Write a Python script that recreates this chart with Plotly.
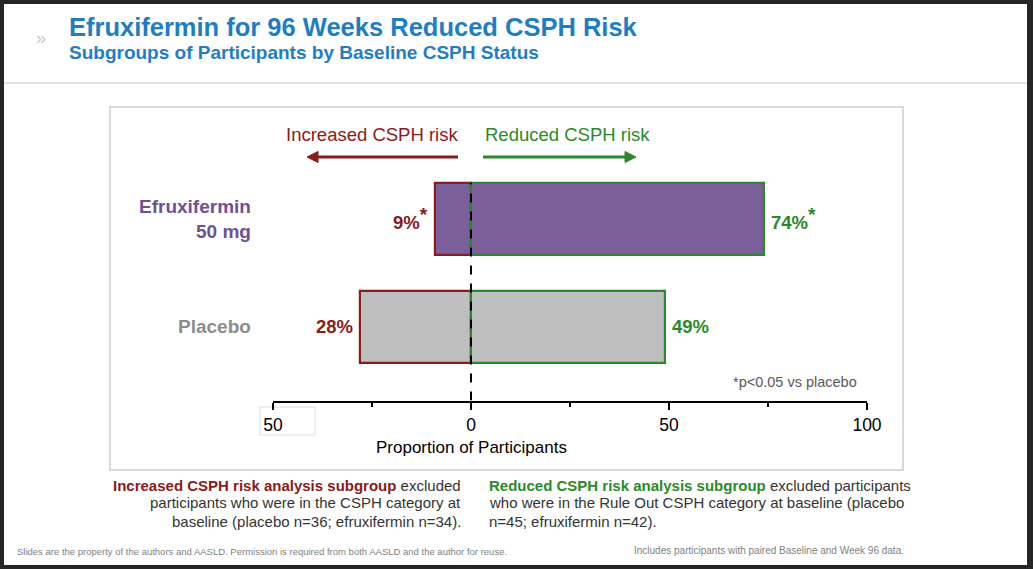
import plotly.graph_objects as go

W, H = 1033, 569

# ---- data ----
groups = ["Efruxifermin 50 mg", "Placebo"]
group_lines = [["Efruxifermin", "50 mg"], ["Placebo"]]
increased = [9, 28]          # % with increased CSPH risk
reduced = [74, 49]           # % with reduced CSPH risk
increased_sig = ["*", ""]
reduced_sig = ["*", ""]
tick_vals = [-50, 0, 50, 100]
tick_text = ["50", "0", "50", "100"]
minor_vals = [-25, 25, 75]

# ---- styles ----
FONT = "Liberation Sans, Arial, sans-serif"
RED = "#8b1a1a"
GREEN = "#2a8a2a"
PURPLE = "#7b5f9b"
GRAY = "#bfbfbf"
BLUE = "#1f7dc4"
fills = [PURPLE, GRAY]
label_colors = ["#6f4f96", "#8c8c8c"]


def X(px):
    return px / W


def Y(py):
    return 1 - py / H


fig = go.Figure()
fig.add_trace(go.Bar(
    x=[-v for v in increased], y=groups, orientation="h", width=0.67,
    marker=dict(color=fills, line=dict(color=RED, width=2.2)),
    hoverinfo="skip", showlegend=False))
fig.add_trace(go.Bar(
    x=reduced, y=groups, orientation="h", width=0.67,
    marker=dict(color=fills, line=dict(color=GREEN, width=2.2)),
    hoverinfo="skip", showlegend=False))

ann = []
shapes = []

# white slide on dark frame
shapes.append(dict(type="rect", xref="paper", yref="paper", x0=X(4), x1=X(1027),
                   y0=Y(565), y1=Y(4), fillcolor="white", line=dict(width=0), layer="below"))
# header separator
shapes.append(dict(type="line", xref="paper", yref="paper", x0=X(4), x1=X(1027),
                   y0=Y(83), y1=Y(83), line=dict(color="#e3e3e3", width=2), layer="below"))
# chart frame
shapes.append(dict(type="rect", xref="paper", yref="paper", x0=X(110), x1=X(903),
                   y0=Y(470), y1=Y(107), line=dict(color="#d9d9d9", width=2), layer="below"))
# box around left tick label
shapes.append(dict(type="rect", xref="paper", yref="paper", x0=X(260), x1=X(315),
                   y0=Y(435), y1=Y(407), line=dict(color="#dcdcdc", width=1), layer="below"))
# dashed zero line
shapes.append(dict(type="line", xref="x", yref="y", x0=0, x1=0, y0=-0.681, y1=1.335,
                   line=dict(color="black", width=2, dash="dash"), layer="above"))


def arrow(x_tail, x_head, yy, color):
    d = 1 if x_head > x_tail else -1
    base = x_head - d * 11
    shapes.append(dict(type="line", xref="paper", yref="paper", x0=X(x_tail), x1=X(base),
                       y0=Y(yy), y1=Y(yy), line=dict(color=color, width=3)))
    path = (f"M {X(x_head)},{Y(yy)} L {X(base)},{Y(yy - 5.5)} "
            f"L {X(base)},{Y(yy + 5.5)} Z")
    shapes.append(dict(type="path", xref="paper", yref="paper", path=path,
                       fillcolor=color, line=dict(color=color, width=1)))


arrow(458, 307, 157, RED)
arrow(483, 636, 157, GREEN)


def txt(text, px, py, size, color, xanchor="center", bold=False):
    return dict(text=f"<b>{text}</b>" if bold else text, x=X(px), y=Y(py),
                xref="paper", yref="paper", xanchor=xanchor, yanchor="middle",
                showarrow=False, font=dict(family=FONT, size=size, color=color))


# titles
ann.append(txt("Efruxifermin for 96 Weeks Reduced CSPH Risk", 67, 27, 25.5, BLUE, "left", True))
ann.append(txt("Subgroups of Participants by Baseline CSPH Status", 67, 52, 19, BLUE, "left", True))
ann.append(txt("»", 41, 38, 18, "#c8c8c8"))

# direction labels
ann.append(txt("Increased CSPH risk", 372, 135, 18.5, RED))
ann.append(txt("Reduced CSPH risk", 567, 135, 18.5, GREEN))

# group labels
for g, lines, col in zip(groups, group_lines, label_colors):
    ann.append(dict(text="<b>" + "<br>".join(lines) + "</b>", x=X(253), y=g, xref="paper", yref="y",
                    xanchor="right", yanchor="middle", align="right", showarrow=False,
                    font=dict(family=FONT, size=19, color=col)))


def val_text(v, s):
    t = f"<b>{v}%"
    if s:
        t += f"<sup><span style='font-size:19px'>{s}</span></sup>"
    return t + "</b>"


# value labels
for g, v, s in zip(groups, increased, increased_sig):
    ann.append(dict(text=val_text(v, s), x=-v, y=g, xref="x", yref="y", xanchor="right",
                    yanchor="middle", xshift=-5, showarrow=False,
                    font=dict(family=FONT, size=18.5, color=RED)))
for g, v, s in zip(groups, reduced, reduced_sig):
    ann.append(dict(text=val_text(v, s), x=v, y=g, xref="x", yref="y", xanchor="left",
                    yanchor="middle", xshift=5, showarrow=False,
                    font=dict(family=FONT, size=18.5, color=GREEN)))

ann.append(txt("*p<0.05 vs placebo", 859, 382, 14.5, "#595959", "right"))
ann.append(dict(text="Proportion of Participants", x=0, y=Y(447), xref="x", yref="paper",
                xanchor="center", yanchor="middle", showarrow=False,
                font=dict(family=FONT, size=17, color="black")))

# bottom notes
left_lines = [f"<span style='color:{RED}'><b>Increased CSPH risk analysis subgroup</b></span> excluded",
              "participants who were in the CSPH category at",
              "baseline (placebo n=36; efruxifermin n=34)."]
right_lines = [f"<span style='color:{GREEN}'><b>Reduced CSPH risk analysis subgroup</b></span> excluded participants",
               "who were in the Rule Out CSPH category at baseline (placebo",
               "n=45; efruxifermin n=42)."]
for i, t in enumerate(left_lines):
    ann.append(txt(t, 463, 485 + 18 * i, 15, "#333333", "right"))
for i, t in enumerate(right_lines):
    ann.append(txt(t, 487, 485 + 18 * i, 15, "#333333", "left"))

ann.append(txt("Slides are the property of the authors and AASLD. Permission is required from both AASLD and the author for reuse.",
               15, 551, 9.5, "#7f7f7f", "left"))
ann.append(txt("Includes participants with paired Baseline and Week 96 data.", 632, 550, 10, "#7f7f7f", "left"))

fig.update_layout(
    width=W, height=H, margin=dict(l=0, r=0, t=0, b=0, autoexpand=False),
    paper_bgcolor="#262626", plot_bgcolor="rgba(0,0,0,0)",
    barmode="relative", bargap=0,
    xaxis=dict(domain=[X(273), X(867)], range=[-50, 100], tickvals=tick_vals, ticktext=tick_text,
               ticks="outside", ticklen=7, tickwidth=2, tickcolor="black",
               showline=True, linewidth=2, linecolor="black", showgrid=False, zeroline=False,
               tickfont=dict(family=FONT, size=17.5, color="black"),
               minor=dict(tickvals=minor_vals, ticks="outside", ticklen=4, tickwidth=2, tickcolor="black"),
               fixedrange=True),
    yaxis=dict(domain=[Y(400.5), Y(160)], range=[-0.681, 1.546], type="category",
               categoryorder="array", categoryarray=groups[::-1],
               showticklabels=False, showgrid=False, zeroline=False, showline=False, ticks="",
               fixedrange=True),
    annotations=ann, shapes=shapes,
)

fig.write_html("out.html", config={"displayModeBar": False},
               post_script="document.body.style.margin='0px';document.body.style.overflow='hidden';")
